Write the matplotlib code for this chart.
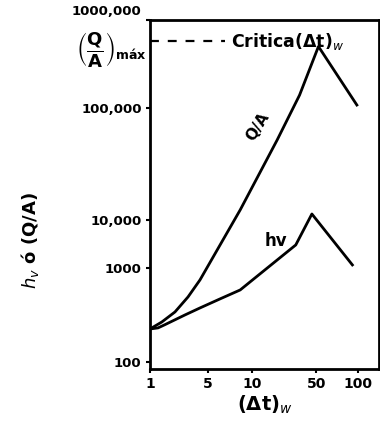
import numpy as np
import matplotlib
matplotlib.use('Agg')
import matplotlib.pyplot as plt
import matplotlib.transforms as mtransforms

# values
qa_x = [1, 1.39, 2, 2.87, 4, 8.3, 18.8, 33, 52, 98]
qa_y = [224, 266, 340, 491, 745, 12300, 51800, 140000, 500000, 108000]
hv_x = [1, 1.25, 1.5, 2.64, 4, 6.04, 8.3, 9.7, 30, 45, 91]
hv_y = [224, 230, 248, 316, 375, 468, 583, 710, 3010, 11300, 1155]
qa_max = 577000
x_ticks = [1, 5, 10, 50, 100]
x_labels = ['1', '5', '10', '50', '100']
y_ticks = [100, 1000, 10000, 100000, 1000000]
y_labels = ['100', '1000', '10,000', '100,000', '1000,000']


def sketch_scale(vals, pos):
    # the sketch decades are not evenly spaced, so map them piecewise
    lv = np.log10(vals)

    def fwd(v):
        v = np.clip(np.asarray(v, dtype=float), 1e-12, None)
        return np.interp(np.log10(v), lv, pos)

    def inv(p):
        return 10 ** np.interp(p, pos, lv)
    return fwd, inv


def main():
    fig = plt.figure(figsize=(3.8, 4.23), dpi=100)
    ax = fig.add_axes([150 / 380, 54 / 423, 229 / 380, 349 / 423])

    ax.set_xscale('function', functions=sketch_scale(
        [0.1, 1, 5, 10, 50, 100, 1000], [67, 150, 208, 252, 316, 358, 498]))
    ax.set_yscale('function', functions=sketch_scale(
        [10, 100, 1000, 1e4, 1e5, 1e6, 1e7], [-33, 61, 155, 203, 315, 403, 491]))

    ax.plot(qa_x, qa_y, color='black', lw=2, solid_joinstyle='round')
    ax.plot(hv_x, hv_y, color='black', lw=2, solid_joinstyle='round')
    ax.plot([1, 6.5], [qa_max, qa_max], color='black', lw=1.6,
            linestyle=(0, (4, 4)), clip_on=False)

    ax.set_xlim(1, 141)
    ax.set_ylim(84, 1e6)

    ax.set_xticks(x_ticks)
    ax.set_xticklabels(x_labels, fontweight='bold', fontsize=10)
    ax.set_yticks(y_ticks)
    ax.set_yticklabels(y_labels, fontweight='bold', fontsize=9.5)
    ax.minorticks_off()
    ax.tick_params(direction='out', length=3, width=1.5, pad=3)

    # top label sits a little above the frame in the sketch
    top = ax.get_yticklabels()[-1]
    top.set_transform(top.get_transform() +
                      mtransforms.ScaledTranslation(0, 7 / 72, fig.dpi_scale_trans))

    for s in ax.spines.values():
        s.set_linewidth(2)

    # annotations
    ax.text(7.2, qa_max, r'Critica(Δt)$_w$', fontsize=12.5, fontweight='bold',
            va='center', ha='left')
    ax.text(-0.015, qa_max * 0.8,
            r'$\mathbf{\left(\dfrac{Q}{A}\right)_{m\acute{a}x}}$',
            fontsize=13, ha='right', va='center', transform=ax.get_yaxis_transform())
    ax.text(11.6, 67600, 'Q/A', fontsize=11, fontweight='bold', rotation=58,
            ha='center', va='center')
    ax.text(18.3, 3650, 'hv', fontsize=12, fontweight='bold',
            ha='center', va='center')

    ax.set_xlabel('(Δt)$_w$', fontsize=14, fontweight='bold', labelpad=2)
    fig.text(30 / 380, 1 - 240 / 423, r'$h_v$ ó (Q/A)', rotation=90,
             fontsize=13, fontweight='bold', ha='center', va='center')

    fig.savefig('out.png', dpi=100)


if __name__ == '__main__':
    main()
